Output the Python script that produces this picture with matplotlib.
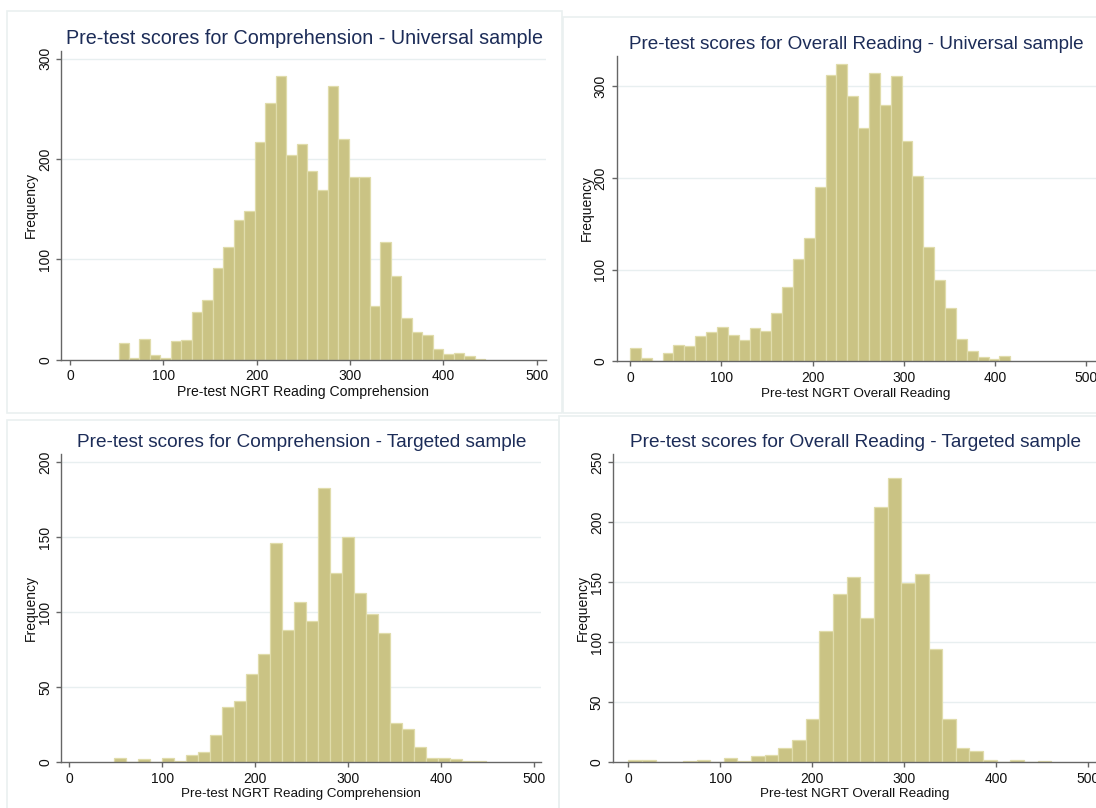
import numpy as np
import matplotlib
matplotlib.use("Agg")
import matplotlib.pyplot as plt
from matplotlib.patches import Rectangle

plt.rcParams['font.family'] = ['Liberation Sans', 'DejaVu Sans']

# histogram data: first bin edge, bin width, counts
comp_univ_start = 52.0
comp_univ_width = 11.22
comp_univ_counts = [17, 2, 21, 5, 2, 19, 20, 48, 60, 91, 112, 139, 148, 217, 256,
                    283, 204, 215, 188, 169, 273, 220, 182, 182, 54, 117, 83, 42,
                    28, 25, 11, 6, 7, 4, 1]

read_univ_start = 0.0
read_univ_width = 11.9
read_univ_counts = [15, 4, 0, 9, 18, 17, 28, 32, 37, 29, 23, 36, 33, 53, 81, 112,
                    135, 190, 312, 324, 289, 254, 314, 280, 311, 240, 202, 125, 89,
                    58, 24, 11, 5, 2, 6]

comp_targ_start = 48.0
comp_targ_width = 12.9
comp_targ_counts = [3, 0, 2, 0, 3, 1, 5, 7, 18, 37, 41, 59, 72, 146, 88, 107, 94,
                    183, 126, 150, 113, 99, 86, 26, 22, 10, 3, 3, 2, 1, 1]

read_targ_start = 0.0
read_targ_width = 14.85
read_targ_counts = [2, 2, 0, 0, 1, 2, 0, 3, 1, 5, 6, 12, 18, 36, 109, 140, 154, 120,
                    213, 237, 149, 157, 94, 36, 12, 9, 2, 0, 2, 0, 1]

titles = ["Pre-test scores for Comprehension - Universal sample",
          "Pre-test scores for Overall Reading - Universal sample",
          "Pre-test scores for Comprehension - Targeted sample",
          "Pre-test scores for Overall Reading - Targeted sample"]
xlabels = ["Pre-test NGRT Reading Comprehension", "Pre-test NGRT Overall Reading",
           "Pre-test NGRT Reading Comprehension", "Pre-test NGRT Overall Reading"]
yticks = [[0, 100, 200, 300], [0, 100, 200, 300],
          [0, 50, 100, 150, 200], [0, 50, 100, 150, 200, 250]]
xticks = [0, 100, 200, 300, 400, 500]

W, H = 1096, 808
fig = plt.figure(figsize=(W / 100, H / 100), dpi=100)
fig.patch.set_facecolor('white')

def fx(x):
    return x / W

def fy(y):
    return 1 - y / H

# faint graph-region borders
for (x0, y0, x1, y1) in [(7, 11, 562, 413), (563, 17, 1110, 413),
                         (7, 420, 559, 820), (559, 416, 1110, 820)]:
    fig.patches.append(Rectangle((fx(x0), fy(y1)), fx(x1 - x0), (y1 - y0) / H,
                                 transform=fig.transFigure, fill=False,
                                 edgecolor='#eaf0f0', lw=1.2))

# plot regions in pixels: left, top, right, bottom ; limits
panels = [
    dict(box=(61.2, 50.7, 546.3, 359.7), xlim=(-9.4, 510.3), ylim=(0, 308),
         start=comp_univ_start, width=comp_univ_width, counts=comp_univ_counts,
         title=(305, 44), xlab=(303, 396), ylab=(31, 205), tfs=14.2, lfs=10.1),
    dict(box=(616.5, 56.0, 1100, 361.3), xlim=(-14.8, 514.8), ylim=(0, 333),
         start=read_univ_start, width=read_univ_width, counts=read_univ_counts,
         title=(856, 49), xlab=(856, 397), ylab=(587, 208), tfs=13.55, lfs=9.7),
    dict(box=(61.1, 454, 541, 762), xlim=(-8.9, 507.6), ylim=(0, 205.6),
         start=comp_targ_start, width=comp_targ_width, counts=comp_targ_counts,
         title=(302, 447), xlab=(301, 797), ylab=(31, 608), tfs=13.7, lfs=9.65),
    dict(box=(612.8, 454, 1100, 762), xlim=(-16.9, 513.3), ylim=(0, 257),
         start=read_targ_start, width=read_targ_width, counts=read_targ_counts,
         title=(855, 447), xlab=(855, 797), ylab=(583, 608), tfs=13.7, lfs=9.7),
]

for i, p in enumerate(panels):
    l, t, r, b = p['box']
    ax = fig.add_axes([fx(l), fy(b), (r - l) / W, (b - t) / H])
    ax.set_facecolor('none')
    edges = p['start'] + p['width'] * np.arange(len(p['counts']))
    ax.bar(edges, p['counts'], width=p['width'], align='edge',
           color='#cac384', edgecolor='#e0dcab', linewidth=0.9, zorder=2)
    ax.set_xlim(*p['xlim'])
    ax.set_ylim(*p['ylim'])
    ax.set_xticks(xticks)
    ax.set_yticks(yticks[i])
    for yv in yticks[i][1:]:
        ax.axhline(yv, color='#e8eff0', lw=1.0, zorder=1)
    for s in ['top', 'right']:
        ax.spines[s].set_visible(False)
    for s in ['left', 'bottom']:
        ax.spines[s].set_color('#666666')
        ax.spines[s].set_linewidth(1.0)
    ax.tick_params(direction='out', length=3.5, width=1.0, color='#666666',
                   labelsize=10, labelcolor='#111111', pad=3.5)
    ax.tick_params(axis='y', labelrotation=90, pad=3)
    for lab in ax.get_yticklabels():
        lab.set_va('center')

    fig.text(fx(p['title'][0]), fy(p['title'][1]), titles[i], ha='center',
             va='baseline', fontsize=p['tfs'], color='#1c2c58')
    fig.text(fx(p['xlab'][0]), fy(p['xlab'][1]), xlabels[i], ha='center',
             va='baseline', fontsize=p['lfs'], color='#111111')
    fig.text(fx(p['ylab'][0]), fy(p['ylab'][1]), 'Frequency', ha='center',
             va='center', rotation=90, fontsize=10, color='#111111')

fig.savefig('out.png', dpi=100, facecolor='white')
